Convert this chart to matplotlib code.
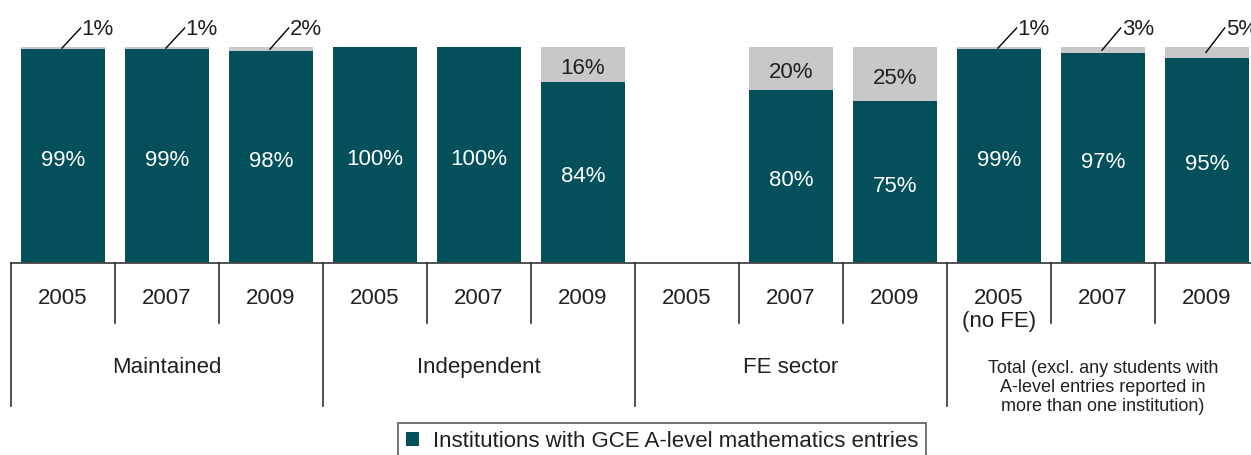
import matplotlib
matplotlib.use("Agg")
import matplotlib.pyplot as plt
from matplotlib.patches import Patch

plt.rcParams['font.family'] = ['Liberation Sans', 'DejaVu Sans']

years = ["2005", "2007", "2009", "2005", "2007", "2009", "2005", "2007", "2009",
         "2005\n(no FE)", "2007", "2009"]
groups = ["Maintained", "Independent", "FE sector",
          "Total (excl. any students with\nA-level entries reported in\nmore than one institution)"]
with_entries = [99, 99, 98, 100, 100, 84, None, 80, 75, 99, 97, 95]
without_entries = [1, 1, 2, 0, 0, 16, None, 20, 25, 1, 3, 5]
legend_label = "Institutions with GCE A-level mathematics entries"

TEAL = "#03505B"
GRAY = "#C7C8CA"
TXT = "#231F20"

fig = plt.figure(figsize=(12.51, 4.55), dpi=100)
ax = fig.add_axes([11 / 1251, 192 / 455, 1248 / 1251, 216 / 455])
ax.set_xlim(-0.5, 11.5)
ax.set_ylim(0, 100)
ax.axis('off')

W = 0.81
DY = 2.0  # small downward shift for centred labels
for i, (a, b) in enumerate(zip(with_entries, without_entries)):
    if a is None:
        continue
    ax.bar(i, a, width=W, color=TEAL, linewidth=0)
    ax.bar(i, b, bottom=a, width=W, color=GRAY, linewidth=0)
    ax.text(i, a / 2 - DY, f"{a}%", color="white", ha='center', va='center', fontsize=16)
    if b >= 10:
        ax.text(i, a + b / 2 - DY, f"{b}%", color=TXT, ha='center', va='center', fontsize=16)
    elif b > 0:
        ax.plot([i - 0.01, i + 0.17], [a + b / 2, 108.8], color="black", lw=1,
                clip_on=False)
        ax.text(i + 0.18, 108.2, f"{b}%", color=TXT, ha='left', va='center',
                fontsize=16, clip_on=False)

# axis baseline
ax.plot([-0.5, 11.5], [0, 0], color="#444444", lw=1.3, clip_on=False)

# separators
for k in range(13):
    x = -0.5 + k
    if k % 3 == 0:
        ax.plot([x, x], [0, -66], color="#333333", lw=1.2, clip_on=False)
    else:
        ax.plot([x, x], [0, -27.8], color="#333333", lw=1.2, clip_on=False)

for i, y in enumerate(years):
    if "\n" in y:
        ax.text(i, -21.6, y, ha='center', va='center', fontsize=16, color=TXT,
                linespacing=1.12, clip_on=False)
    else:
        ax.text(i, -16.3, y, ha='center', va='center', fontsize=16, color=TXT,
                clip_on=False)

for g, name in enumerate(groups):
    xc = 3 * g + 1
    if "\n" in name:
        ax.text(xc, -57.6, name, ha='center', va='center', fontsize=13, color=TXT,
                linespacing=1.18, clip_on=False)
    else:
        ax.text(xc, -48.6, name, ha='center', va='center', fontsize=16, color=TXT,
                clip_on=False)

leg = fig.legend(handles=[Patch(facecolor=TEAL, edgecolor='none', label=legend_label)],
                 loc='upper center', bbox_to_anchor=(662 / 1251, 1 - 423 / 455),
                 borderaxespad=0, fontsize=16, frameon=True, fancybox=False,
                 handlelength=0.6, handleheight=0.6, handletextpad=0.6,
                 borderpad=0.35, labelcolor=TXT)
leg.get_frame().set_edgecolor("#333333")
leg.get_frame().set_linewidth(1.2)

fig.savefig("out.png", dpi=100)
